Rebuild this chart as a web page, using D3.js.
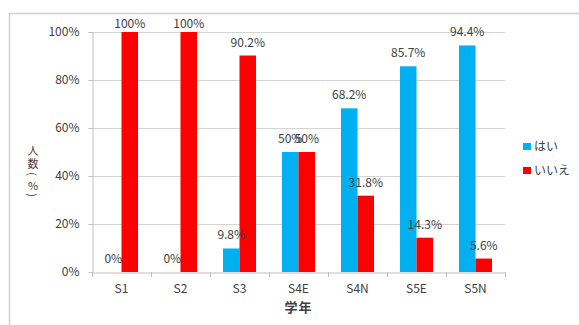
<!DOCTYPE html>
<html><head><meta charset="utf-8">
<script src="https://cdn.jsdelivr.net/npm/d3@7"></script>
<style>
html,body{margin:0;padding:0;background:#fff;}
svg{display:block;}
text{font-family:"Noto Sans CJK JP","Noto Sans",sans-serif;fill:#404040;}
</style></head>
<body>
<svg id="chart" width="579" height="325"></svg>
<script>
const categories = ["S1","S2","S3","S4E","S4N","S5E","S5N"];
const seriesNames = ["はい","いいえ"];
const hai = [0, 0, 9.8, 50, 68.2, 85.7, 94.4];
const iie = [100, 100, 90.2, 50, 31.8, 14.3, 5.6];
const yTicks = [0,20,40,60,80,100];
const colors = ["#00b0f0","#ff0000"];
const yTitleChars = ["人","数","(","%",")"];
const xTitle = "学年";

const svg = d3.select("#chart");
const m = {left:92, right:74, top:32, bottom:53};
const W = 579, H = 325;
const x0 = d3.scaleBand().domain(categories).range([m.left, W-m.right]).paddingInner(0).paddingOuter(0);
const x1 = d3.scaleBand().domain(seriesNames).range([x0.bandwidth()*0.22, x0.bandwidth()*0.78]);
const y = d3.scaleLinear().domain([0,100]).range([H-m.bottom, m.top]);

// outer frame
svg.append("rect").attr("x",9.5).attr("y",13.5).attr("width",W).attr("height",H)
  .attr("fill","none").attr("stroke","#d0d0d0").attr("stroke-width",1.5);

// grid
svg.append("g").selectAll("line").data(yTicks.filter(d=>d>0)).join("line")
  .attr("x1",m.left).attr("x2",W-m.right)
  .attr("y1",d=>Math.round(y(d))+0.5).attr("y2",d=>Math.round(y(d))+0.5)
  .attr("stroke","#d4d4d4").attr("stroke-width",1);

// y axis
const yAxis = svg.append("g").attr("transform",`translate(${m.left+0.5},0)`)
  .call(d3.axisLeft(y).tickValues(yTicks).tickFormat(d=>d+"%").tickSizeInner(4).tickSizeOuter(0).tickPadding(9));
yAxis.select(".domain").attr("stroke","#bfbfbf");
yAxis.selectAll(".tick line").attr("stroke","#bfbfbf");
yAxis.selectAll("text").attr("font-size",12).attr("fill","#404040")
  .style("font-family",'"Noto Sans CJK JP",sans-serif');

// x axis
const xAxis = svg.append("g").attr("transform",`translate(0,${Math.round(y(0))+0.5})`)
  .call(d3.axisBottom(x0).tickSize(0).tickPadding(12));
xAxis.select(".domain").attr("stroke","#bfbfbf");
xAxis.selectAll("text").attr("font-size",12).attr("fill","#404040")
  .style("font-family",'"Noto Sans CJK JP",sans-serif');
// category boundary ticks
const bounds = categories.map(c=>x0(c)).concat([x0(categories[categories.length-1])+x0.bandwidth()]);
svg.append("g").selectAll("line").data(bounds).join("line")
  .attr("x1",d=>Math.round(d)+0.5).attr("x2",d=>Math.round(d)+0.5)
  .attr("y1",Math.round(y(0))).attr("y2",Math.round(y(0))+5)
  .attr("stroke","#bfbfbf");

// bars
const data = categories.map((c,i)=>({cat:c, vals:[hai[i], iie[i]]}));
const groups = svg.append("g").selectAll("g").data(data).join("g")
  .attr("transform",d=>`translate(${x0(d.cat)},0)`);
groups.selectAll("rect").data(d=>d.vals.map((v,j)=>({v,s:seriesNames[j],j}))).join("rect")
  .attr("x",d=>x1(d.s)).attr("width",x1.bandwidth())
  .attr("y",d=>y(d.v)).attr("height",d=>y(0)-y(d.v))
  .attr("fill",d=>colors[d.j]);
groups.selectAll("text").data(d=>d.vals.map((v,j)=>({v,s:seriesNames[j],j}))).join("text")
  .attr("x",d=>x1(d.s)+x1.bandwidth()/2)
  .attr("y",d=>Math.max(y(d.v)-9, 28))
  .attr("text-anchor","middle").attr("font-size",12)
  .text(d=>d.v+"%");

// y title: stacked vertical characters, parentheses rotated as in vertical writing
const yTitleSteps = [0, 13, 11, 11, 10];
let acc = 150;
const yTitlePos = yTitleSteps.map(s => (acc += s));
svg.append("g").selectAll("text").data(yTitleChars).join("text")
  .attr("text-anchor","middle").attr("dominant-baseline","central")
  .attr("font-size",11).attr("fill","#404040")
  .attr("transform",(d,i)=>`translate(33,${yTitlePos[i]})` + ((d==="("||d===")") ? " rotate(90)" : ""))
  .text(d=>d);

// x title
svg.append("text").attr("x",(m.left+W-m.right)/2).attr("y",312)
  .attr("text-anchor","middle").attr("font-size",13).attr("font-weight","bold")
  .attr("letter-spacing",1).text(xTitle);

// legend
const lg = svg.append("g").selectAll("g").data(seriesNames).join("g")
  .attr("transform",(d,i)=>`translate(523,${143+i*24})`);
lg.append("rect").attr("width",8).attr("height",7).attr("fill",(d,i)=>colors[i]);
lg.append("text").attr("x",11).attr("y",7.5).attr("font-size",12).text(d=>d);
</script>
</body></html>
